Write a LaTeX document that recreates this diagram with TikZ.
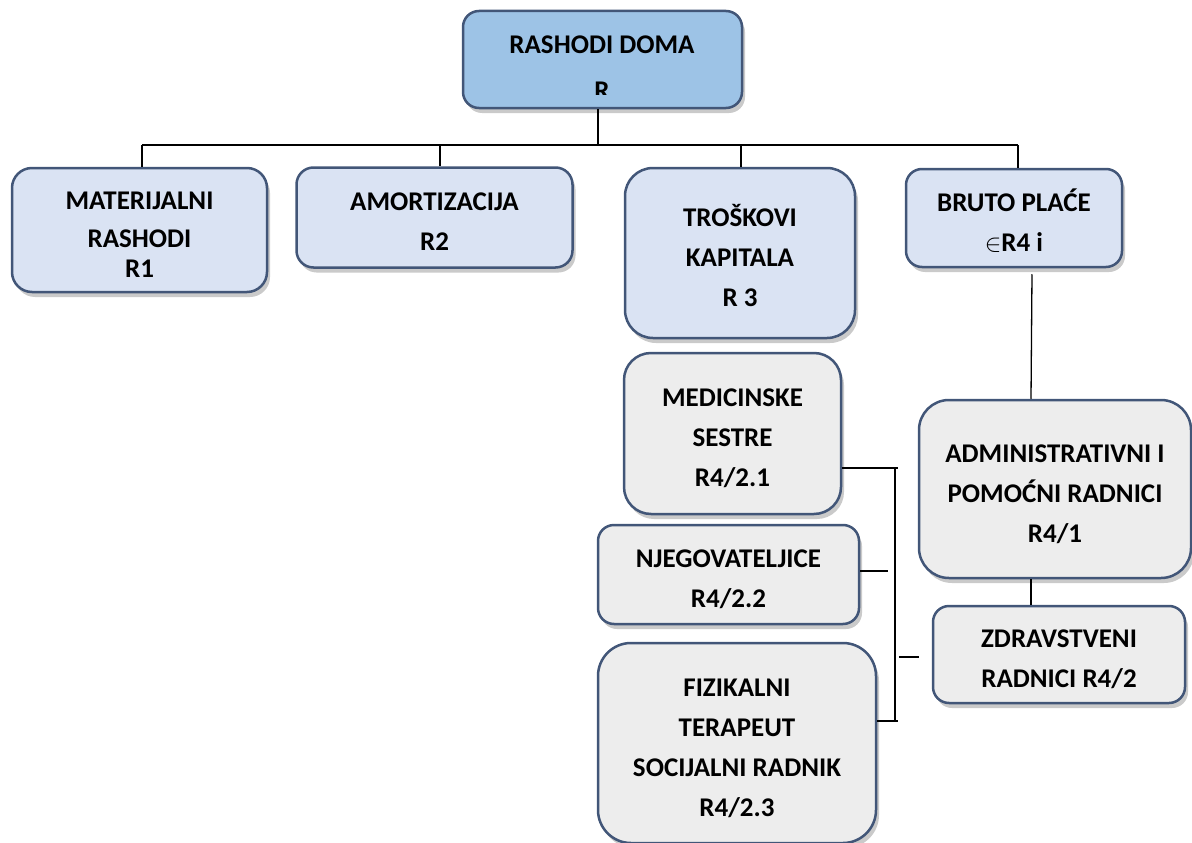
\documentclass[tikz,border=0pt]{standalone}
\usepackage{fontspec}
\setmainfont{Carlito}
\usetikzlibrary{shadows}

\definecolor{edgeblue}{RGB}{66,86,120}
\definecolor{topblue}{RGB}{157,195,230}
\definecolor{paleblue}{RGB}{218,227,243}
\definecolor{palegrey}{RGB}{237,237,237}

% text u kutiji, malo spusten
\newcommand{\boxtxt}[1]{\raisebox{-5pt}[\height][\depth]{\begin{tabular}{@{}c@{}}#1\end{tabular}}}

\tikzset{
    orgbox/.style={draw=edgeblue, line width=2.5pt, inner sep=0pt,
        font=\bfseries\fontsize{27}{40}\selectfont,
        drop shadow={shadow xshift=3pt, shadow yshift=-5pt, opacity=0.35, fill=black!60}},
    lvlone/.style={orgbox, fill=paleblue},
    lvltwo/.style={orgbox, fill=palegrey},
    boxlbl/.style={font=\bfseries\fontsize{27}{40}\selectfont, inner sep=0pt},
    link/.style={line width=1.3pt}
}

\begin{document}
\begin{tikzpicture}[x=1pt, y=-1pt]
    \useasboundingbox (0,0) rectangle (1192,843);

    % vrh: rashodi doma
    \node[orgbox, fill=topblue, rounded corners=16pt, minimum width=279pt, minimum height=97pt] (dom) at (602.5,59.5) {};
    \node[boxlbl] (domtxt) at (602,45) {RASHODI DOMA};
    \begin{scope}
        \clip (463,11) rectangle (742,95);
        \node[boxlbl] (domr) at (602,91) {R};
    \end{scope}

    % prva razina
    \node[lvlone, rounded corners=20pt, minimum width=255pt, minimum height=124pt] (mat) at (139.5,230) {\boxtxt{MATERIJALNI\\[-2pt] RASHODI\\[-10pt] R1}};
    \node[lvlone, rounded corners=17pt, minimum width=276pt, minimum height=100pt] (amo) at (434.5,217.5) {\boxtxt{AMORTIZACIJA\\ R2}};
    \node[lvlone, rounded corners=28pt, minimum width=230pt, minimum height=170pt] (kap) at (740,253) {\boxtxt{TROŠKOVI\\ KAPITALA\\ R 3}};
    \node[lvlone, rounded corners=16pt, minimum width=216pt, minimum height=98pt] (bru) at (1014,218) {\boxtxt{BRUTO PLAĆE\\ $\in$R4 i}};

    % druga razina
    \node[lvltwo, rounded corners=27pt, minimum width=217pt, minimum height=161pt] (med) at (732.5,433.5) {\boxtxt{MEDICINSKE\\ SESTRE\\ R4/2.1}};
    \node[lvltwo, rounded corners=16pt, minimum width=261pt, minimum height=99pt] (njg) at (728.5,574.5) {\boxtxt{NJEGOVATELJICE\\ R4/2.2}};
    \node[lvltwo, rounded corners=33pt, minimum width=278pt, minimum height=200pt] (fiz) at (737,743) {\boxtxt{FIZIKALNI\\ TERAPEUT\\ SOCIJALNI RADNIK\\ R4/2.3}};
    \node[lvltwo, rounded corners=30pt, minimum width=272pt, minimum height=178pt] (adm) at (1055,489) {\boxtxt{ADMINISTRATIVNI I\\ POMOĆNI RADNICI\\ R4/1}};
    \node[lvltwo, rounded corners=16pt, minimum width=252pt, minimum height=97pt] (zdr) at (1059,654.5) {\boxtxt{ZDRAVSTVENI\\ RADNICI R4/2}};

    % veze
    \coordinate (busL) at (142,145);
    \coordinate (busR) at (1018,145);
    \draw[link] ([xshift=-4.5pt]dom.south) -- ([xshift=-4.5pt]dom.south |- busL);
    \draw[link] (busL) -- (busR);
    \foreach \x/\n in {142/mat, 440/amo, 741/kap, 1018/bru}
        \draw[link] (\x,145) -- (\x,145 |- \n.north);

    \draw[link] ([xshift=18pt, yshift=-6pt]bru.south) -- ([xshift=-24pt]adm.north);
    \draw[link] ([xshift=-24pt]adm.south) -- ([xshift=-28pt]zdr.north);

    % zagrada
    \coordinate (brT) at (898,468);
    \coordinate (brB) at (898,721);
    \draw[link] (med.east |- brT) -- (brT);
    \draw[link] (895,468) -- (895,721);
    \draw[link] (fiz.east |- brB) -- (brB);
    \draw[link] ([yshift=3.5pt]njg.east) -- ++(28,0);
    \draw[link] ([xshift=-33pt, yshift=-2.5pt]zdr.west) -- ([xshift=-13pt, yshift=-2.5pt]zdr.west);
\end{tikzpicture}
\end{document}
